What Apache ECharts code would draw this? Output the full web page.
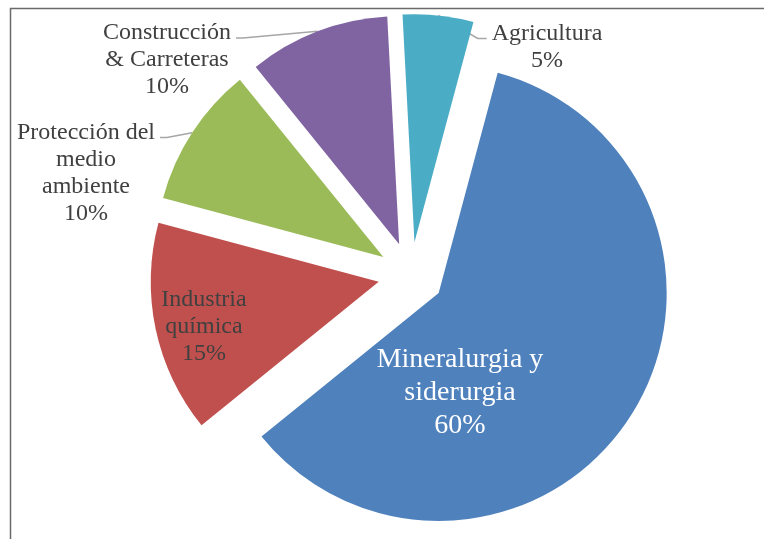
<!DOCTYPE html>
<html>
<head>
<meta charset="utf-8">
<script src="https://cdn.jsdelivr.net/npm/echarts@6/dist/echarts.min.js"></script>
<style>
  html, body { margin: 0; padding: 0; background: #fff; }
  #chart { width: 764px; height: 539px; }
</style>
</head>
<body>
<div id="chart"></div>
<script>
const sectors = ['Mineralurgia y\nsiderurgia', 'Industria\nquímica', 'Protección del\nmedio\nambiente', 'Construcción\n& Carreteras', 'Agricultura']
const shares = [60, 15, 10, 10, 5]
const colors = ['#4F81BD', '#C0504D', '#9BBB59', '#8064A2', '#4BACC6']

// label block centres, placed like the Excel original
const labelSpots = [
  { x: 460, y: 393 },
  { x: 204, y: 327 },
  { x: 86, y: 173 },
  { x: 167, y: 60 },
  { x: 547, y: 47 }
]

const pieCenter = [411, 275]
const pieRadius = 228
const startAngle = 75
const explode = 33

const chart = echarts.init(document.getElementById('chart'))

const total = shares.reduce((a, b) => a + b, 0)

function makeLayout(k) {
  return function (params) {
    const spot = labelSpots[params.dataIndex]
    const out = { x: spot.x, y: spot.y, align: 'center', verticalAlign: 'middle' }
    const pts = params.labelLinePoints
    if (pts && k >= 2) {
      // leader line: from the arc midpoint to the side of the first text line
      const rect = params.labelRect
      const onLeft = spot.x < pieCenter[0]
      const lineH = 27
      const ey = spot.y - rect.height / 2 + lineH / 2 + 5
      const ex = onLeft ? spot.x + rect.width / 2 + 5 : spot.x - rect.width / 2 - 5
      const bx = onLeft ? ex + 7 : ex - 9
      out.labelLinePoints = [pts[0], [bx, ey], [ex, ey]]
    }
    return out
  }
}

// one series per slice so every slice can be pulled out along its own mid angle
const series = []
let before = 0
shares.forEach((share, k) => {
  const mid = (startAngle - 360 * (before + share / 2) / total) * Math.PI / 180
  before += share
  const inside = k < 2
  series.push({
    type: 'pie',
    center: [pieCenter[0] + explode * Math.cos(mid), pieCenter[1] - explode * Math.sin(mid)],
    radius: pieRadius,
    startAngle: startAngle,
    clockwise: true,
    silent: true,
    avoidLabelOverlap: false,
    label: {
      show: true,
      position: inside ? 'inside' : 'outside',
      formatter: '{b}\n{c}%',
      fontFamily: '"Liberation Serif", "Times New Roman", serif',
      fontSize: k === 0 ? 28 : 24,
      lineHeight: k === 0 ? 33 : 27,
      color: k === 0 ? '#fff' : '#404040',
      align: 'center'
    },
    labelLine: {
      show: !inside,
      length: 10,
      length2: 10,
      lineStyle: { color: '#a6a6a6', width: 1.5 }
    },
    labelLayout: makeLayout(k),
    data: sectors.map((name, i) => {
      const item = { name: name, value: shares[i], itemStyle: { color: i === k ? colors[i] : 'rgba(0,0,0,0)' } }
      if (i !== k) {
        item.label = { show: false }
        item.labelLine = { show: false }
      }
      return item
    })
  })
})

const option = {
  animation: false,
  graphic: [{
    type: 'rect',
    shape: { x: 10.5, y: 8.5, width: 900, height: 700 },
    style: { fill: null, stroke: '#6a6a6a', lineWidth: 1.5 },
    silent: true
  }],
  series: series
}

chart.setOption(option)
</script>
</body>
</html>
